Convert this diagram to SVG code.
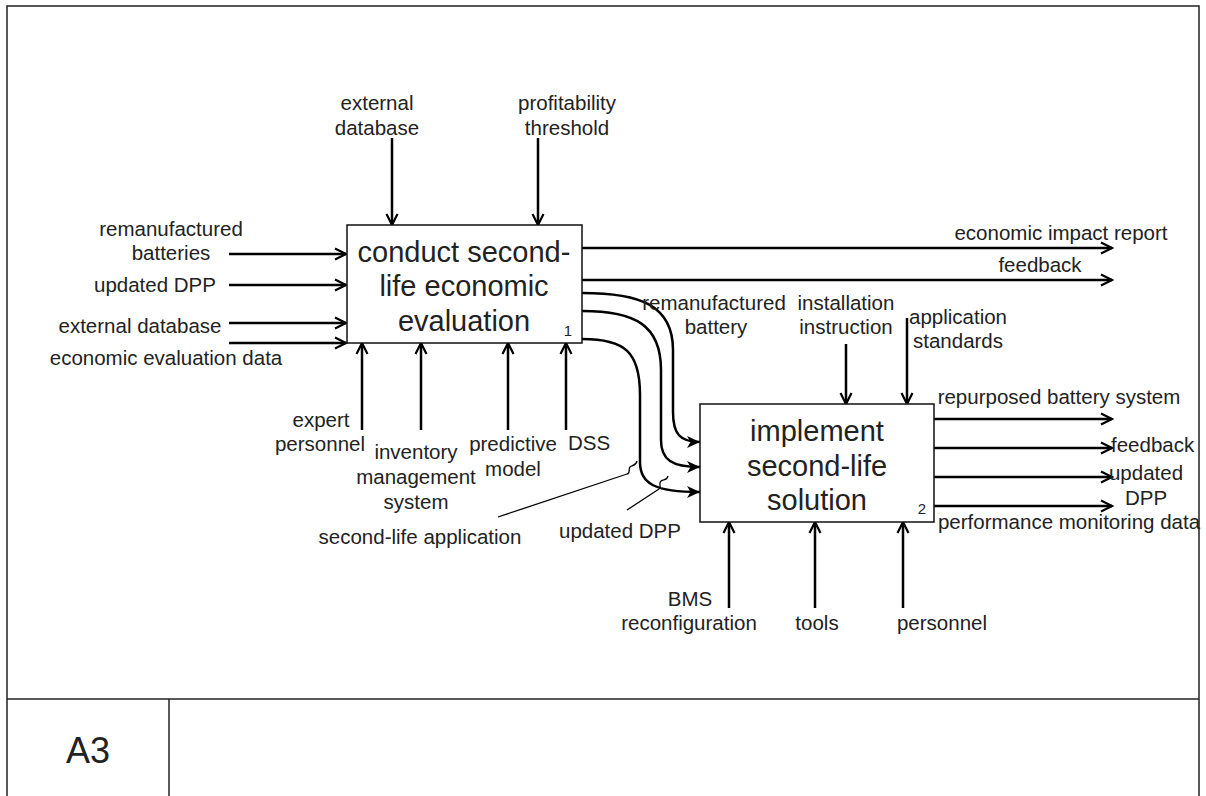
<svg xmlns="http://www.w3.org/2000/svg" width="1206" height="796" viewBox="0 0 1206 796">
  <style>
    text { font-family: "Liberation Sans", Arial, sans-serif; fill: #222; }
    .lbl { font-size: 20.5px; }
    .title { font-size: 29px; text-anchor: middle; }
    .num { font-size: 15px; text-anchor: end; }
    .mid { text-anchor: middle; }
    .end { text-anchor: end; }
    .box { fill: #fff; stroke: #111; stroke-width: 1.5; }
    .frame { fill: none; stroke: #222; stroke-width: 1.5; }
    .arr { fill: none; stroke: #000; stroke-width: 2.5; marker-end: url(#open); }
    .cur { fill: none; stroke: #000; stroke-width: 2.5; marker-end: url(#solid); }
    .lead { fill: none; stroke: #000; stroke-width: 1.3; }
  </style>
  <defs>
    <marker id="open" viewBox="0 0 14 14" refX="12.5" refY="7" markerWidth="14" markerHeight="14" markerUnits="userSpaceOnUse" orient="auto">
      <path d="M1.5,1.5 L12.5,7 L1.5,12.5" fill="none" stroke="#000" stroke-width="2.2"/>
    </marker>
    <marker id="solid" viewBox="0 0 14 14" refX="13" refY="7" markerWidth="14" markerHeight="14" markerUnits="userSpaceOnUse" orient="auto">
      <path d="M0,1 L13,7 L0,13 L3.5,7 Z" fill="#000"/>
    </marker>
  </defs>

  <rect width="1206" height="796" fill="#fff"/>

  <!-- drawing frame and title block -->
  <g id="frame">
    <path class="frame" d="M7,806 L7,6 L1199,6 L1199,806"/>
    <line class="frame" x1="7" y1="699" x2="1199" y2="699"/>
    <line class="frame" x1="169" y1="699" x2="169" y2="806"/>
    <text x="88" y="763" style="font-size:36px" class="mid">A3</text>
  </g>

  <!-- connectors -->
  <g id="connectors">
    <!-- inputs to activity 1 -->
    <line class="arr" x1="229" y1="254" x2="346" y2="254"/>
    <line class="arr" x1="229" y1="285" x2="346" y2="285"/>
    <line class="arr" x1="229" y1="323" x2="346" y2="323"/>
    <line class="arr" x1="229" y1="343" x2="346" y2="343"/>
    <!-- controls of activity 1 -->
    <line class="arr" x1="392" y1="138" x2="392" y2="225"/>
    <line class="arr" x1="538" y1="138" x2="538" y2="225"/>
    <!-- mechanisms of activity 1 -->
    <line class="arr" x1="362" y1="430" x2="362" y2="343"/>
    <line class="arr" x1="421" y1="430" x2="421" y2="343"/>
    <line class="arr" x1="508" y1="430" x2="508" y2="343"/>
    <line class="arr" x1="566" y1="430" x2="566" y2="343"/>
    <!-- outputs of activity 1 -->
    <line class="arr" x1="582" y1="248" x2="1112" y2="248"/>
    <line class="arr" x1="582" y1="280" x2="1112" y2="280"/>
    <!-- activity 1 to activity 2 -->
    <path class="cur" d="M582,293 C640,293 673,305 673,350 L673,412 C673,434 680,442 700,442"/>
    <path class="cur" d="M582,311 C635,311 661,325 661,370 L661,440 C661,460 672,467 700,467"/>
    <path class="cur" d="M582,339 C625,339 640,352 640,395 L640,462 C640,484 655,492 700,492"/>
    <!-- label leaders -->
    <path class="lead" d="M498,517 L627,474 C631,473 628,469 630,467 C632,465 636,466 637,461"/>
    <path class="lead" d="M627,510 L659,489 C662,487 658,484 661,481 C663,479 667,481 668,476"/>
    <!-- controls of activity 2 -->
    <line class="arr" x1="846" y1="344" x2="846" y2="404"/>
    <line class="arr" x1="907" y1="318" x2="907" y2="404"/>
    <!-- outputs of activity 2 -->
    <line class="arr" x1="934" y1="419" x2="1112" y2="419"/>
    <line class="arr" x1="934" y1="448" x2="1112" y2="448"/>
    <line class="arr" x1="934" y1="477" x2="1112" y2="477"/>
    <line class="arr" x1="934" y1="506" x2="1112" y2="506"/>
    <!-- mechanisms of activity 2 -->
    <line class="arr" x1="729" y1="608" x2="729" y2="522"/>
    <line class="arr" x1="815" y1="608" x2="815" y2="522"/>
    <line class="arr" x1="903" y1="608" x2="903" y2="522"/>
  </g>

  <!-- activity 1 -->
  <g id="activity1">
    <rect class="box" x="347" y="225" width="235" height="118"/>
    <text class="title" x="464" y="262">conduct second-</text>
    <text class="title" x="464" y="296">life economic</text>
    <text class="title" x="464" y="331">evaluation</text>
    <text class="num" x="572" y="336">1</text>
  </g>

  <!-- activity 2 -->
  <g id="activity2">
    <rect class="box" x="700" y="404" width="234" height="118"/>
    <text class="title" x="817" y="441">implement</text>
    <text class="title" x="817" y="476">second-life</text>
    <text class="title" x="817" y="510">solution</text>
    <text class="num" x="926" y="514">2</text>
  </g>

  <!-- arrow labels -->
  <g id="labels" class="lbl">
    <text class="lbl mid" x="171" y="236">remanufactured</text>
    <text class="lbl mid" x="171" y="260">batteries</text>
    <text class="lbl mid" x="155" y="292">updated DPP</text>
    <text class="lbl mid" x="140" y="333">external database</text>
    <text class="lbl mid" x="166" y="365">economic evaluation data</text>

    <text class="lbl mid" x="377" y="110">external</text>
    <text class="lbl mid" x="377" y="135">database</text>
    <text class="lbl mid" x="567" y="110">profitability</text>
    <text class="lbl mid" x="567" y="135">threshold</text>

    <text class="lbl mid" x="321" y="427">expert</text>
    <text class="lbl mid" x="320" y="451">personnel</text>
    <text class="lbl mid" x="416" y="459">inventory</text>
    <text class="lbl mid" x="416" y="484">management</text>
    <text class="lbl mid" x="416" y="509">system</text>
    <text class="lbl mid" x="513" y="451">predictive</text>
    <text class="lbl mid" x="513" y="476">model</text>
    <text class="lbl mid" x="589" y="450">DSS</text>

    <text class="lbl mid" x="420" y="544">second-life application</text>
    <text class="lbl mid" x="620" y="538">updated DPP</text>

    <text class="lbl mid" x="1061" y="240">economic impact report</text>
    <text class="lbl mid" x="1040" y="272">feedback</text>

    <text class="lbl mid" x="714" y="310">remanufactured</text>
    <text class="lbl mid" x="716" y="334">battery</text>
    <text class="lbl mid" x="846" y="310">installation</text>
    <text class="lbl mid" x="846" y="334">instruction</text>
    <text class="lbl mid" x="958" y="324">application</text>
    <text class="lbl mid" x="958" y="348">standards</text>

    <text class="lbl mid" x="1059" y="404">repurposed battery system</text>
    <text class="lbl" x="1111" y="452">feedback</text>
    <text class="lbl mid" x="1146" y="480">updated</text>
    <text class="lbl mid" x="1146" y="505">DPP</text>
    <text class="lbl mid" x="1069" y="529">performance monitoring data</text>

    <text class="lbl mid" x="690" y="606">BMS</text>
    <text class="lbl mid" x="689" y="630">reconfiguration</text>
    <text class="lbl mid" x="817" y="630">tools</text>
    <text class="lbl mid" x="942" y="630">personnel</text>
  </g>
</svg>
